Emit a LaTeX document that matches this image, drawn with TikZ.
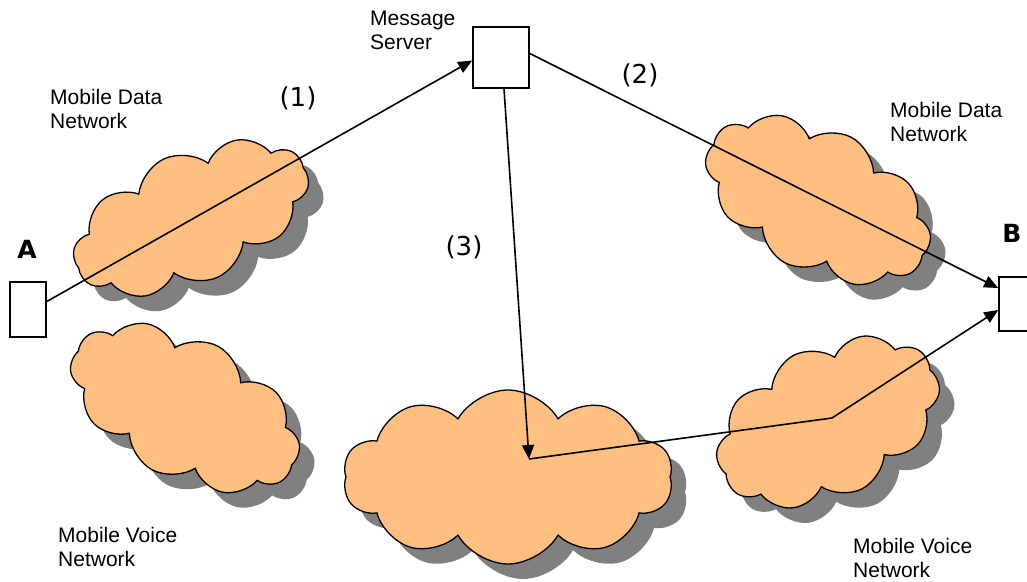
\documentclass[tikz,border=0pt]{standalone}
\usepackage{fontspec}
\setmainfont{Liberation Sans}
\newfontfamily\verdanalike{DejaVu Sans}
\usetikzlibrary{shapes.symbols,arrows.meta}

\definecolor{cloudfill}{RGB}{255,191,128}
\definecolor{cloudshadow}{RGB}{128,128,128}

\tikzset{
  cloudbody/.style={cloud, cloud puffs=10, cloud puff arc=120, draw=black,
    line width=1.3pt, fill=cloudfill, inner sep=0pt, aspect=1.8},
  cloudshade/.style={cloud, cloud puffs=10, cloud puff arc=120, draw=none,
    fill=cloudshadow, inner sep=0pt, aspect=1.8},
  terminal/.style={draw=black, line width=1.6pt, fill=white, inner sep=0pt},
  caption/.style={anchor=north west, inner sep=0pt, align=left,
    font=\fontsize{21}{24}\selectfont},
  steplabel/.style={inner sep=0pt, font=\verdanalike\fontsize{26}{30}\selectfont},
  endlabel/.style={inner sep=0pt, font=\verdanalike\bfseries\fontsize{25}{30}\selectfont},
  link/.style={draw=black, line width=1.6pt},
  msg/.style={link, -{Triangle[length=14pt,width=12pt]}},
}

% shaded network cloud: name, centre x, centre y, width, height, rotation
\newcommand\netcloud[6]{%
  \node[cloudshade, minimum width=#4pt, minimum height=#5pt, rotate=#6]
    (#1-shade) at (#2+15,#3+15) {};
  \node[cloudbody, minimum width=#4pt, minimum height=#5pt, rotate=#6]
    (#1) at (#2,#3) {};
}

\begin{document}
\begin{tikzpicture}[x=1pt, y=-1pt]
  \useasboundingbox (0,0) rectangle (1027,581);
  \clip (0,0) rectangle (1027,581);

  % networks
  \netcloud{dataA}{191}{218}{250}{130}{24}
  \netcloud{voiceA}{185}{408}{248}{140}{-28}
  \netcloud{dataB}{818}{200}{243}{142}{-28}
  \netcloud{voiceCore}{508}{477}{330}{174}{0}
  \netcloud{voiceB}{828}{422}{238}{150}{27}

  % terminals and server
  \node[terminal, minimum width=36pt, minimum height=55pt] (A) at (28,309.5) {};
  \node[terminal, minimum width=36pt, minimum height=54pt] (B) at (1017,304) {};
  \node[terminal, minimum width=56pt, minimum height=61pt] (S) at (501,57.5) {};

  \coordinate (hub) at (529,459);
  \coordinate (bend) at (832,418);

  % message paths
  \draw[msg] ([yshift=8pt]A.east) -- ([yshift=-3pt]S.west);
  \draw[msg] ([yshift=4pt]S.east) -- ([yshift=16pt]B.west);
  \draw[msg] ([xshift=3pt]S.south) -- (hub);
  \draw[msg] (hub) -- (bend) -- ([yshift=-6pt]B.west);

  % labels
  \node[caption] (srvlbl) at (370,11) {Message\\Server};
  \node[caption] (dataAlbl) at (50,89) {Mobile Data\\Network};
  \node[caption] (dataBlbl) at (890,102) {Mobile Data\\Network};
  \node[caption] (voiceAlbl) at (58,527) {Mobile Voice\\Network};
  \node[caption] (voiceBlbl) at (853,538) {Mobile Voice\\Network};

  \node[steplabel] (s1) at (298,98) {(1)};
  \node[steplabel] (s2) at (640,75) {(2)};
  \node[steplabel] (s3) at (464,247) {(3)};
  \node[endlabel] (Alb) at (27,249) {A};
  \node[endlabel] (Blb) at (1012,233) {B};
\end{tikzpicture}
\end{document}
